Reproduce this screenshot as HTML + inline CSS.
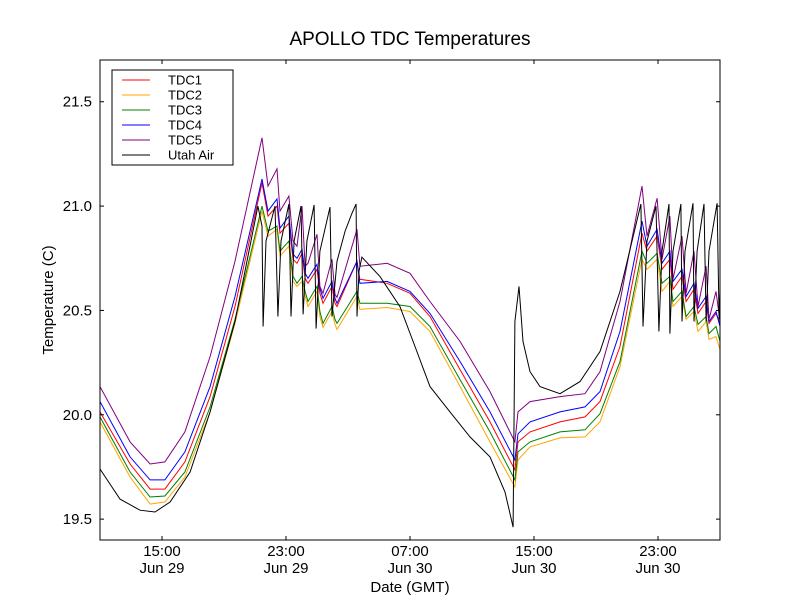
<!DOCTYPE html>
<html><head><meta charset="utf-8"><style>
body{margin:0;background:#fff;}
svg{display:block;font-family:"Liberation Sans",sans-serif;}
</style></head><body>
<svg id="c" width="800" height="600"></svg>
<script>
const times=[0,1.94,3.23,4.19,5.48,7.10,8.71,10.45,10.84,11.42,11.61,12.19,12.45,12.71,13.03,13.23,13.42,14.00,14.19,14.39,14.97,15.16,15.29,16.58,16.77,18.52,20.00,21.29,23.23,25.16,26.77,26.97,27.74,29.68,31.29,32.26,33.55,34.97,35.29,35.94,36.26,36.77,36.97,37.55,37.81,38.32,38.58,39.10,39.29,39.74,40.00];
const tdc4=[20.063,19.798,19.688,19.688,19.822,20.135,20.567,21.130,20.976,21.034,20.894,20.952,20.769,20.750,20.793,20.678,20.654,20.721,20.606,20.558,20.639,20.558,20.534,20.736,20.630,20.639,20.591,20.486,20.255,20.014,19.784,19.909,19.966,20.014,20.038,20.111,20.399,20.928,20.808,20.889,20.726,20.784,20.639,20.697,20.567,20.630,20.510,20.567,20.447,20.495,20.423];
const tdc5=[20.135,19.870,19.764,19.774,19.918,20.279,20.736,21.327,21.096,21.178,20.976,21.048,20.832,20.808,21.0,20.712,20.726,20.865,20.615,20.582,20.745,20.577,20.563,20.889,20.712,20.726,20.678,20.543,20.351,20.111,19.870,20.014,20.063,20.087,20.101,20.207,20.543,21.096,20.856,21.038,20.745,20.952,20.649,20.856,20.582,20.784,20.519,20.712,20.457,20.591,20.447];
const tdc1=[20.014,19.764,19.644,19.644,19.774,20.087,20.519,21.111,20.952,21.0,20.870,20.918,20.745,20.726,20.774,20.654,20.630,20.697,20.582,20.534,20.615,20.534,20.519,20.736,20.649,20.630,20.582,20.471,20.216,19.966,19.736,19.870,19.918,19.966,19.990,20.063,20.327,20.870,20.784,20.856,20.697,20.745,20.601,20.663,20.543,20.601,20.486,20.543,20.438,20.486,20.438];
const tdc3=[19.990,19.726,19.606,19.611,19.726,20.038,20.457,21.0,20.880,20.904,20.784,20.832,20.663,20.630,20.663,20.591,20.543,20.615,20.495,20.438,20.519,20.457,20.438,20.591,20.534,20.534,20.519,20.423,20.168,19.918,19.688,19.822,19.870,19.918,19.928,20.005,20.255,20.784,20.726,20.774,20.630,20.663,20.543,20.591,20.471,20.519,20.433,20.471,20.389,20.423,20.351];
const tdc2=[19.966,19.702,19.572,19.582,19.702,20.014,20.438,20.976,20.856,20.889,20.760,20.808,20.639,20.615,20.639,20.567,20.519,20.591,20.471,20.418,20.495,20.433,20.409,20.567,20.505,20.514,20.495,20.399,20.135,19.870,19.654,19.784,19.846,19.889,19.894,19.966,20.231,20.745,20.697,20.745,20.591,20.639,20.519,20.567,20.457,20.495,20.399,20.447,20.361,20.375,20.313];
const airTimes=[0,1.29,2.58,3.55,4.52,5.81,7.10,8.71,10.19,10.45,10.52,10.71,11.29,11.48,11.68,12.19,12.32,12.52,12.97,13.10,13.35,13.81,13.94,14.19,14.84,14.97,15.29,15.81,16.26,16.52,16.58,16.71,16.90,18.06,19.35,20.32,21.29,22.58,23.87,25.16,26.13,26.65,26.77,27.03,27.29,27.74,28.39,29.68,30.97,32.26,33.55,34.90,35.03,35.29,35.87,36.06,36.26,36.71,36.77,36.97,37.48,37.55,37.74,38.26,38.32,38.52,38.97,39.10,39.29,39.81,39.94,40.0];
const air=[19.740,19.596,19.543,19.534,19.582,19.726,20.014,20.447,21.0,20.904,20.423,20.832,21.0,20.471,20.832,21.010,20.471,20.832,21.0,20.481,20.832,21.005,20.413,20.784,20.995,20.471,20.736,20.880,20.966,21.010,20.471,20.688,20.755,20.663,20.519,20.327,20.135,20.014,19.894,19.798,19.630,19.462,20.447,20.615,20.351,20.207,20.135,20.101,20.159,20.303,20.591,21.010,20.423,20.832,21.0,20.399,20.784,21.010,20.389,20.784,21.010,20.447,20.784,21.014,20.447,20.784,21.010,20.447,20.784,21.014,20.457,20.591];
const yTicks=[19.5,20.0,20.5,21.0,21.5];
const yTickLabels=["19.5","20.0","20.5","21.0","21.5"];
const xTicks=[4,12,20,28,36];
const xTickTime=["15:00","23:00","07:00","15:00","23:00"];
const xTickDate=["Jun 29","Jun 29","Jun 30","Jun 30","Jun 30"];
const seriesNames=["TDC1","TDC2","TDC3","TDC4","TDC5","Utah Air"];

const L=100,R=720,T=60,B=540,X0=0,X1=40,Y0=19.4,Y1=21.7;
const sx=t=>L+(t-X0)/(X1-X0)*(R-L);
const sy=v=>B-(v-Y0)/(Y1-Y0)*(B-T);
const NS="http://www.w3.org/2000/svg";
const svg=document.getElementById('c');
function mk(tag,attrs,parent){const e=document.createElementNS(NS,tag);for(const k in attrs)e.setAttribute(k,attrs[k]);(parent||svg).appendChild(e);return e;}
const clip=mk('clipPath',{id:'pc'});mk('rect',{x:L,y:T,width:R-L,height:B-T},clip);
const plot=mk('g',{'clip-path':'url(#pc)'});


function line(ts,vs,color,name){
  const d=ts.map((t,i)=>(i?'L':'M')+sx(t).toFixed(1)+','+sy(vs[i]).toFixed(1)).join('');
  const p=mk('path',{d:d,fill:'none',stroke:color,'stroke-width':1},plot);
  
  
}
line(times,tdc2,'#ffa500','line-tdc2');
line(times,tdc3,'#008000','line-tdc3');
line(times,tdc1,'#ff0000','line-tdc1');
line(times,tdc4,'#0000ff','line-tdc4');
line(times,tdc5,'#800080','line-tdc5');
line(airTimes,air,'#000000','line-utah-air');
// frame
const fr=mk('rect',{x:L,y:T,width:R-L,height:B-T,fill:'none',stroke:'#000','stroke-width':1});


yTicks.forEach((v,i)=>{
  const y=sy(v);
  mk('line',{x1:L,x2:L+4,y1:y,y2:y,stroke:'#000'});
  mk('line',{x1:R-4,x2:R,y1:y,y2:y,stroke:'#000'});
  const t=mk('text',{x:L-8,y:y+5,'text-anchor':'end','font-size':15});
  t.textContent=yTickLabels[i];
  
  
});
xTicks.forEach((h,i)=>{
  const x=sx(h);
  mk('line',{x1:x,x2:x,y1:B,y2:B-4,stroke:'#000'});
  mk('line',{x1:x,x2:x,y1:T,y2:T+4,stroke:'#000'});
  const t=mk('text',{x:x,y:B+16,'text-anchor':'middle','font-size':15});
  t.textContent=xTickTime[i];
  
  
  const t2=mk('text',{x:x,y:B+33,'text-anchor':'middle','font-size':15});
  t2.textContent=xTickDate[i];
  
  
});
const ti=mk('text',{x:410,y:45,'text-anchor':'middle','font-size':19});ti.textContent='APOLLO TDC Temperatures';


const xl=mk('text',{x:410,y:592,'text-anchor':'middle','font-size':15});xl.textContent='Date (GMT)';


const yl=mk('text',{x:0,y:0,'text-anchor':'middle','font-size':15,transform:'translate(53,300) rotate(-90)'});yl.textContent='Temperature (C)';


// legend
const lg=mk('g',{});


mk('rect',{x:112,y:70,width:121,height:95,fill:'#fff',stroke:'#000'},lg);
const cols=['#ff0000','#ffa500','#008000','#0000ff','#800080','#000000'];
seriesNames.forEach((n,i)=>{
  const y=80+i*15;
  const g=mk('g',{},lg);
  
  
  mk('line',{x1:122,x2:150,y1:y,y2:y,stroke:cols[i]},g);
  const t=mk('text',{x:168,y:y+4.5,'font-size':13},g);t.textContent=n;
});
</script>
</body></html>
